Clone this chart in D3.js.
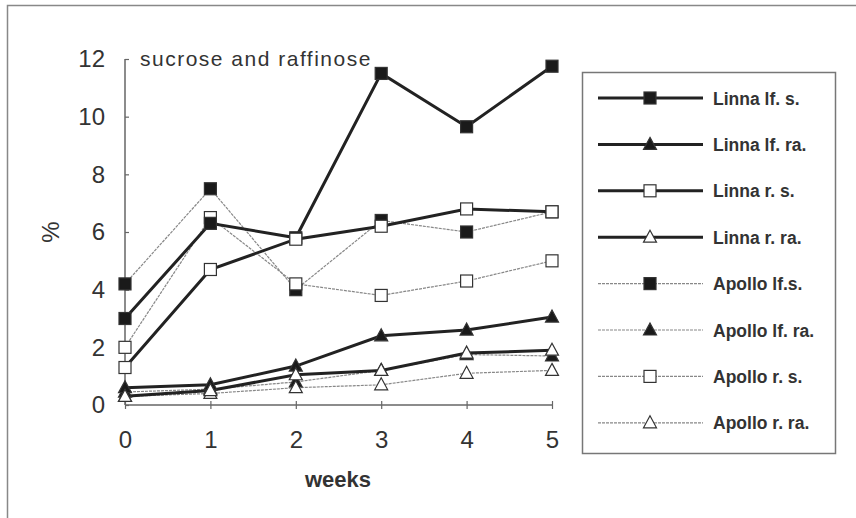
<!DOCTYPE html>
<html>
<head>
<meta charset="utf-8">
<script src="https://cdn.jsdelivr.net/npm/d3@7"></script>
<style>
  body { margin: 0; background: #fff; }
  svg { font-family: "Liberation Sans", Arial, sans-serif; }
</style>
</head>
<body>
<svg id="chart" width="856" height="518"></svg>
<script>
// weeks on x axis
var weeks = [0, 1, 2, 3, 4, 5];
var yTicks = [0, 2, 4, 6, 8, 10, 12];

var seriesNames = ["Linna lf. s.", "Linna lf. ra.", "Linna r. s.", "Linna r. ra.",
                   "Apollo lf.s.", "Apollo lf. ra.", "Apollo r. s.", "Apollo r. ra."];

// values (%)
var linnaLfS   = [3.0, 6.3, 5.8, 11.5, 9.65, 11.75];
var linnaLfRa  = [0.6, 0.7, 1.35, 2.4, 2.6, 3.05];
var linnaRS    = [1.3, 4.7, 5.75, 6.2, 6.8, 6.7];
var linnaRRa   = [0.3, 0.5, 1.05, 1.2, 1.8, 1.9];
var apolloLfS  = [4.2, 7.5, 4.0, 6.4, 6.0, 6.7];
var apolloLfRa = [0.45, 0.55, 0.8, 1.2, 1.75, 1.7];
var apolloRS   = [2.0, 6.5, 4.2, 3.8, 4.3, 5.0];
var apolloRRa  = [0.3, 0.4, 0.6, 0.7, 1.1, 1.2];

var seriesValues = [linnaLfS, linnaLfRa, linnaRS, linnaRRa,
                    apolloLfS, apolloLfRa, apolloRS, apolloRRa];

var svg = d3.select("#chart");

// outer frame
svg.append("rect").attr("x", 7.5).attr("y", 5.5).attr("width", 870).attr("height", 540)
  .attr("fill", "none").attr("stroke", "#888").attr("stroke-width", 1.5);

var x = d3.scaleLinear().domain([0, 5]).range([125, 552]);
var y = d3.scaleLinear().domain([0, 12]).range([405, 59]);

// axes
var xAxis = svg.append("g").attr("transform", "translate(0,405)")
  .call(d3.axisBottom(x).tickValues(weeks).tickSize(4).tickFormat(d3.format("d")));
xAxis.select(".domain").remove();
xAxis.append("line").attr("x1", x(0)).attr("x2", x(5)).attr("stroke", "#666").attr("stroke-width", 1.5);
xAxis.selectAll(".tick line").attr("y1", -4).attr("stroke", "#666").attr("stroke-width", 1.2);
xAxis.selectAll(".tick text").attr("y", 43).attr("dy", null).attr("font-size", 24).attr("fill", "#333")
  .attr("font-family", "Liberation Sans, Arial, sans-serif");

var yAxis = svg.append("g").attr("transform", "translate(125,0)")
  .call(d3.axisLeft(y).tickValues(yTicks).tickSize(4).tickFormat(d3.format("d")));
yAxis.select(".domain").remove();
yAxis.append("line").attr("y1", y(0)).attr("y2", y(12)).attr("stroke", "#666").attr("stroke-width", 1.5);
yAxis.selectAll(".tick line").attr("x2", 4).attr("stroke", "#666").attr("stroke-width", 1.2);
yAxis.selectAll(".tick text").attr("x", -20).attr("font-size", 24).attr("fill", "#333")
  .attr("font-family", "Liberation Sans, Arial, sans-serif");

// labels
svg.append("text").attr("x", 140).attr("y", 66).attr("font-size", 21).attr("letter-spacing", 1.5)
  .attr("fill", "#333").text("sucrose and raffinose");
svg.append("text").attr("x", 338).attr("y", 487).attr("text-anchor", "middle")
  .attr("font-size", 22).attr("font-weight", "bold").attr("fill", "#333").text("weeks");
svg.append("text").attr("transform", "translate(59,232) rotate(-90)").attr("text-anchor", "middle")
  .attr("font-size", 24).attr("fill", "#333").text("%");

// styles per series
function isThick(i) { return i < 4; }
function isSquare(i) { return i % 2 == 0; }
function isFilled(i) { return i % 4 < 2; }

var line = d3.line().x(function(d, k){ return x(weeks[k]); }).y(function(d){ return y(d); });

function lineStyle(sel, i) {
  if (isThick(i)) {
    sel.attr("stroke", "#222").attr("stroke-width", 3);
  } else {
    sel.attr("stroke", "#888").attr("stroke-width", 1.2).attr("stroke-dasharray", "3,1");
  }
}

function drawMarker(g, i, cx, cy) {
  var fill = isFilled(i) ? "#1a1a1a" : "#fff";
  if (isSquare(i)) {
    g.append("rect").attr("x", cx - 6).attr("y", cy - 6).attr("width", 12).attr("height", 12)
      .attr("fill", fill).attr("stroke", "#333").attr("stroke-width", 1.2);
  } else {
    g.append("path").attr("d", "M" + cx + "," + (cy - 7) + "L" + (cx + 6.5) + "," + (cy + 5) +
        "L" + (cx - 6.5) + "," + (cy + 5) + "Z")
      .attr("fill", fill).attr("stroke", "#333").attr("stroke-width", 1.2);
  }
}

// draw Apollo (thin) first, then Linna on top
var order = [4, 5, 6, 7, 0, 1, 2, 3];
var plot = svg.append("g");
order.forEach(function(i) {
  var p = plot.append("path").attr("d", line(seriesValues[i])).attr("fill", "none");
  lineStyle(p, i);
});
order.forEach(function(i) {
  seriesValues[i].forEach(function(v, k) {
    drawMarker(plot, i, x(weeks[k]), y(v));
  });
});

// legend
var legend = svg.append("g");
legend.append("rect").attr("x", 582.5).attr("y", 72.5).attr("width", 253).attr("height", 381)
  .attr("fill", "#fff").attr("stroke", "#777").attr("stroke-width", 1.5);

seriesNames.forEach(function(name, i) {
  var ly = 98 + i * 46.4;
  var l = legend.append("line").attr("x1", 598).attr("x2", 703).attr("y1", ly).attr("y2", ly);
  lineStyle(l, i);
  drawMarker(legend, i, 650, ly);
  legend.append("text").attr("x", 713).attr("y", ly + 6.5).attr("font-size", 17.5)
    .attr("font-weight", "bold").attr("fill", "#333").text(name);
});
</script>
</body>
</html>
